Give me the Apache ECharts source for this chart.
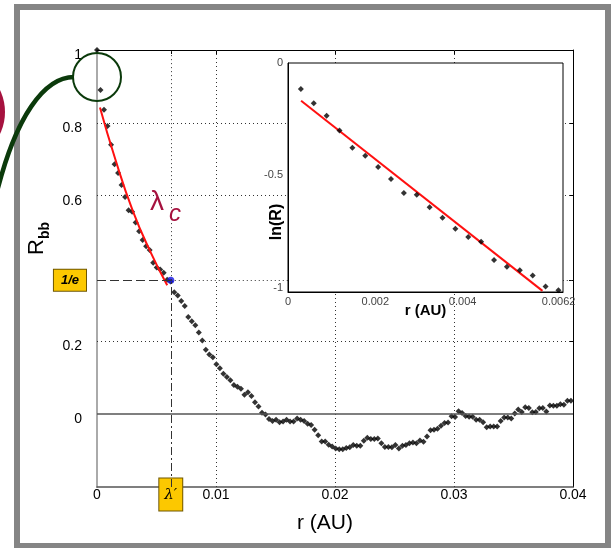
<!DOCTYPE html>
<html>
<head>
<meta charset="utf-8">
<script src="https://cdn.jsdelivr.net/npm/echarts@6/dist/echarts.min.js"></script>
<style>
  html, body { margin: 0; padding: 0; background: #fff; }
  #chart { width: 614px; height: 548px; }
</style>
</head>
<body>
<div id="chart"></div>
<script>
// sample positions r (AU) of the measured points
const radius = [
  0, 0.000295, 0.00059, 0.000885, 0.00118, 0.001475, 0.00177, 0.002065, 0.00236, 0.002655,
  0.00295, 0.003245, 0.00354, 0.003835, 0.00413, 0.004425, 0.00472, 0.005015, 0.00531, 0.005605,
  0.0059, 0.006195, 0.00649, 0.006785, 0.00708, 0.007375, 0.00767, 0.007965, 0.00826, 0.008555,
  0.00885, 0.009145, 0.00944, 0.009735, 0.01003, 0.010325, 0.01062, 0.010915, 0.01121, 0.011505,
  0.0118, 0.012095, 0.01239, 0.012685, 0.01298, 0.013275, 0.01357, 0.013865, 0.01416, 0.014455,
  0.01475, 0.015045, 0.01534, 0.015635, 0.01593, 0.016225, 0.01652, 0.016815, 0.01711, 0.017405,
  0.0177, 0.017995, 0.01829, 0.018585, 0.01888, 0.019175, 0.01947, 0.019765, 0.02006, 0.020355,
  0.02065, 0.020945, 0.02124, 0.021535, 0.02183, 0.022125, 0.02242, 0.022715, 0.02301, 0.023305,
  0.0236, 0.023895, 0.02419, 0.024485, 0.02478, 0.025075, 0.02537, 0.025665, 0.02596, 0.026255,
  0.02655, 0.026845, 0.02714, 0.027435, 0.02773, 0.028025, 0.02832, 0.028615, 0.02891, 0.029205,
  0.0295, 0.029795, 0.03009, 0.030385, 0.03068, 0.030975, 0.03127, 0.031565, 0.03186, 0.032155,
  0.03245, 0.032745, 0.03304, 0.033335, 0.03363, 0.033925, 0.03422, 0.034515, 0.03481, 0.035105,
  0.0354, 0.035695, 0.03599, 0.036285, 0.03658, 0.036875, 0.03717, 0.037465, 0.03776, 0.038055,
  0.03835, 0.038645, 0.03894, 0.039235, 0.03953, 0.039825
];
// R_bb at each sample
const rbb = [
  1.0, 0.890, 0.836, 0.791, 0.740, 0.686, 0.662, 0.629, 0.596, 0.560,
  0.556, 0.526, 0.502, 0.478, 0.461, 0.451, 0.416, 0.403, 0.397, 0.388,
  0.369, 0.364, 0.335, 0.326, 0.311, 0.297, 0.267, 0.255, 0.244, 0.224,
  0.202, 0.177, 0.164, 0.156, 0.137, 0.126, 0.111, 0.102, 0.093, 0.080,
  0.075, 0.070, 0.053, 0.060, 0.050, 0.033, 0.021, 0.004, -0.001, -0.013,
  -0.019, -0.015, -0.022, -0.020, -0.015, -0.020, -0.020, -0.012, -0.015, -0.019,
  -0.026, -0.030, -0.043, -0.058, -0.075, -0.075, -0.084, -0.089, -0.094, -0.096,
  -0.096, -0.093, -0.091, -0.085, -0.087, -0.087, -0.073, -0.065, -0.068, -0.068,
  -0.067, -0.080, -0.090, -0.090, -0.091, -0.085, -0.094, -0.087, -0.085, -0.080,
  -0.078, -0.080, -0.072, -0.076, -0.061, -0.044, -0.043, -0.040, -0.032, -0.024,
  -0.023, -0.006, -0.008, 0.008, 0.003, -0.005, -0.007, -0.007, -0.015, -0.015,
  -0.022, -0.036, -0.034, -0.034, -0.034, -0.019, -0.009, -0.009, -0.012, 0.002,
  0.013, 0.006, 0.019, 0.017, 0.005, 0.006, 0.016, 0.017, 0.007, 0.024,
  0.023, 0.023, 0.027, 0.026, 0.037, 0.037
];

// inset: ln(R) of the first points
const insetRadius = radius.slice(1, 22);
const lnR = [
  -0.116, -0.179, -0.235, -0.301, -0.377, -0.413, -0.463, -0.517, -0.579, -0.587,
  -0.643, -0.689, -0.738, -0.775, -0.796, -0.877, -0.908, -0.923, -0.946, -0.996, -1.012
];

// fitted exponential (red)
const fitMainR = [0.00025, 0.0015, 0.003, 0.0045, 0.0059];
const fitMainV = [0.842, 0.704, 0.559, 0.445, 0.354];
const fitInsetR = [0.0003, 0.00583];
const fitInsetV = [-0.168, -1.015];

const lambdaPoint = [0.0062, 0.368];   // (lambda', 1/e)

const xTicks = [0, 0.0062, 0.01, 0.02, 0.03, 0.04];
const yTicks = [0, 0.2, 0.368, 0.6, 0.8, 1];
const insetXTicks = [0, 0.002, 0.004, 0.0062];
const insetYTicks = [0, -0.5, -1];

const FONT = 'Liberation Sans';
const near = (a, b) => Math.abs(a - b) < 1e-7;
const pairs = (xs, ys) => xs.map((x, i) => [x, ys[i]]);

const dotted = { color: '#333', width: 1, type: [1, 3] };
const boxStyle = {
  backgroundColor: '#fcc800', borderColor: '#6e5600', borderWidth: 1, color: '#000'
};

const chart = echarts.init(document.getElementById('chart'));

const option = {
  animation: false,
  backgroundColor: '#fff',
  grid: [
    { left: 97, top: 50, width: 476, height: 437, outerBoundsMode: 'none' },
    { left: 288, top: 63, width: 275, height: 229, show: true, backgroundColor: '#fff',
      borderColor: '#000', borderWidth: 1, z: 10, outerBoundsMode: 'none' }
  ],
  xAxis: [
    {
      gridIndex: 0, type: 'value', min: 0, max: 0.04, position: 'bottom',
      axisLine: { show: true, onZero: false, lineStyle: { color: '#555', width: 1.5 } },
      axisTick: { show: false },
      splitLine: { show: false },
      axisLabel: {
        customValues: xTicks, margin: 0,
        formatter: v => near(v, lambdaPoint[0]) ? '{box|λ′}' : '{n|' + v + '}',
        rich: {
          n: { fontFamily: FONT, fontSize: 14, color: '#000', lineHeight: 15, padding: [9, 0, 8, 0] },
          box: Object.assign({ fontFamily: 'DejaVu Serif', fontStyle: 'italic', fontSize: 15,
            lineHeight: 15, padding: [9, 5, 8, 5] }, boxStyle)
        }
      },
      name: 'r (AU)', nameLocation: 'middle', nameGap: 26, nameMoveOverlap: false,
      nameTextStyle: { fontFamily: FONT, fontSize: 21, color: '#000', padding: [0, 20, 0, 0] }
    },
    {
      gridIndex: 0, type: 'value', min: 0, max: 0.04, position: 'top',
      axisLine: { show: true, onZero: false, lineStyle: { color: '#000' } },
      axisTick: { show: true, inside: true, length: 4, customValues: [0.0062, 0.01, 0.02, 0.03],
        lineStyle: { color: '#000' } },
      axisLabel: { show: false },
      splitLine: { show: false }
    },
    {
      gridIndex: 1, type: 'value', min: 0, max: 0.0063, z: 11,
      axisLine: { show: true, onZero: false, lineStyle: { color: '#000' } },
      axisTick: { show: false },
      splitLine: { show: false },
      axisLabel: { customValues: insetXTicks, margin: 4, fontFamily: FONT, fontSize: 11, color: '#444' },
      name: 'r (AU)', nameLocation: 'middle', nameGap: 11, nameMoveOverlap: false,
      nameTextStyle: { fontFamily: FONT, fontSize: 15, fontWeight: 'bold', color: '#000' }
    }
  ],
  yAxis: [
    {
      gridIndex: 0, type: 'value', min: -0.2, max: 1,
      axisLine: { show: true, onZero: false, lineStyle: { color: '#aaa', width: 2 } },
      axisTick: { show: false },
      splitLine: { show: false },
      axisLabel: {
        customValues: yTicks, margin: 11,
        formatter: v => near(v, lambdaPoint[1]) ? '{box|1/e}' : '{n|' + v + '}',
        rich: {
          n: { fontFamily: FONT, fontSize: 14, color: '#000', lineHeight: 15, padding: [10, 4, 0, 0] },
          box: Object.assign({ fontFamily: FONT, fontStyle: 'italic', fontWeight: 'bold', fontSize: 13,
            lineHeight: 13, padding: [4, 7, 4, 7] }, boxStyle)
        }
      },
      name: '{a|R}{b|bb}', nameLocation: 'middle', nameGap: 45, nameRotate: 90, nameMoveOverlap: false,
      nameTextStyle: {
        padding: [0, 0, 0, 60],
        rich: {
          a: { fontFamily: FONT, fontSize: 22, color: '#000', lineHeight: 30, verticalAlign: 'middle' },
          b: { fontFamily: FONT, fontSize: 14, fontWeight: 'bold', color: '#000', lineHeight: 30, verticalAlign: 'bottom' }
        }
      }
    },
    {
      gridIndex: 0, type: 'value', min: -0.2, max: 1, position: 'right',
      axisLine: { show: true, onZero: false, lineStyle: { color: '#000' } },
      axisTick: { show: true, inside: true, length: 4, customValues: [0.2, 0.368, 0.6, 0.8],
        lineStyle: { color: '#000' } },
      axisLabel: { show: false },
      splitLine: { show: false }
    },
    {
      gridIndex: 1, type: 'value', min: -1.02, max: 0, z: 11,
      axisLine: { show: true, onZero: false, lineStyle: { color: '#000' } },
      axisTick: { show: false },
      splitLine: { show: false },
      axisLabel: { customValues: insetYTicks, margin: 5, fontFamily: FONT, fontSize: 11, color: '#444' },
      name: 'ln(R)', nameLocation: 'middle', nameGap: 3, nameRotate: 90, nameMoveOverlap: false,
      nameTextStyle: { fontFamily: FONT, fontSize: 16, fontWeight: 'bold', color: '#000', padding: [0, 89, 0, 0] }
    }
  ],
  series: [
    {
      // main grid lines
      type: 'scatter', xAxisIndex: 0, yAxisIndex: 0, data: [], z: 1, silent: true,
      markLine: {
        silent: true, symbol: ['none', 'none'], label: { show: false }, animation: false,
        lineStyle: dotted,
        data: [
          { xAxis: xTicks[2] }, { xAxis: xTicks[3] }, { xAxis: xTicks[4] },
          { yAxis: yTicks[1] }, { yAxis: yTicks[3] }, { yAxis: yTicks[4] },
          [{ coord: [lambdaPoint[0], lambdaPoint[1]] }, { coord: [lambdaPoint[0], 1] }],
          [{ coord: [lambdaPoint[0], lambdaPoint[1]] }, { coord: [0.04, lambdaPoint[1]] }],
          [{ coord: [0, lambdaPoint[1]], lineStyle: { color: '#333', width: 1, type: [9, 4] } },
           { coord: [lambdaPoint[0], lambdaPoint[1]] }],
          [{ coord: [lambdaPoint[0], -0.2], lineStyle: { color: '#333', width: 1, type: [8, 3, 2, 3] } },
           { coord: [lambdaPoint[0], lambdaPoint[1]] }],
          { yAxis: 0, lineStyle: { color: '#555', width: 1.5, type: 'solid' } }
        ]
      }
    },
    {
      type: 'scatter', xAxisIndex: 0, yAxisIndex: 0, z: 2,
      data: pairs(radius, rbb),
      symbol: 'diamond', symbolSize: 6,
      itemStyle: { color: '#000' }
    },
    {
      type: 'line', xAxisIndex: 0, yAxisIndex: 0, z: 3,
      data: pairs(fitMainR, fitMainV), smooth: true, showSymbol: false,
      lineStyle: { color: '#ff1010', width: 2 }
    },
    {
      type: 'scatter', xAxisIndex: 0, yAxisIndex: 0, z: 4,
      data: [lambdaPoint], symbol: 'circle', symbolSize: 7,
      itemStyle: { color: '#1515e6' }
    },
    {
      // inset grid lines
      type: 'scatter', xAxisIndex: 2, yAxisIndex: 2, data: [], z: 11, silent: true,
      markLine: {
        silent: true, symbol: ['none', 'none'], label: { show: false }, animation: false,
        lineStyle: dotted,
        data: [
          { xAxis: insetXTicks[1] }, { xAxis: insetXTicks[2] },
          { xAxis: insetXTicks[3], lineStyle: { color: '#aaa', width: 1, type: [2, 2] } },
          { yAxis: insetYTicks[1] }, { yAxis: insetYTicks[2] }
        ]
      }
    },
    {
      type: 'scatter', xAxisIndex: 2, yAxisIndex: 2, z: 12,
      data: pairs(insetRadius, lnR),
      symbol: 'diamond', symbolSize: 6,
      itemStyle: { color: '#000' }
    },
    {
      type: 'line', xAxisIndex: 2, yAxisIndex: 2, z: 12,
      data: pairs(fitInsetR, fitInsetV), showSymbol: false,
      lineStyle: { color: '#ff1010', width: 2 }
    }
  ],
  graphic: [
    { type: 'circle', shape: { cx: -46, cy: 112, r: 51 }, style: { fill: '#a6123f' }, z: 50 },
    { type: 'rect', shape: { x: 17, y: 7, width: 591, height: 539 },
      style: { fill: 'none', stroke: '#858585', lineWidth: 6 }, z: 50 },
    { type: 'bezierCurve',
      shape: { x1: 74, y1: 77, cpx1: 45, cpy1: 77, cpx2: 15, cpy2: 115, x2: -5, y2: 200 },
      style: { stroke: '#0b3a0b', lineWidth: 4.5, fill: 'none' }, z: 51 },
    { type: 'circle', shape: { cx: 97, cy: 77, r: 24 },
      style: { fill: 'none', stroke: '#0b3a0b', lineWidth: 2 }, z: 51 },
    { type: 'text', x: 150, y: 188,
      style: { text: 'λ', font: '28px "Liberation Sans"', fill: '#a6123f', align: 'left', verticalAlign: 'top' }, z: 51 },
    { type: 'text', x: 169, y: 202,
      style: { text: 'c', font: 'italic 24px "Liberation Sans"', fill: '#a6123f', align: 'left', verticalAlign: 'top' }, z: 51 }
  ]
};

chart.setOption(option);
</script>
</body>
</html>
